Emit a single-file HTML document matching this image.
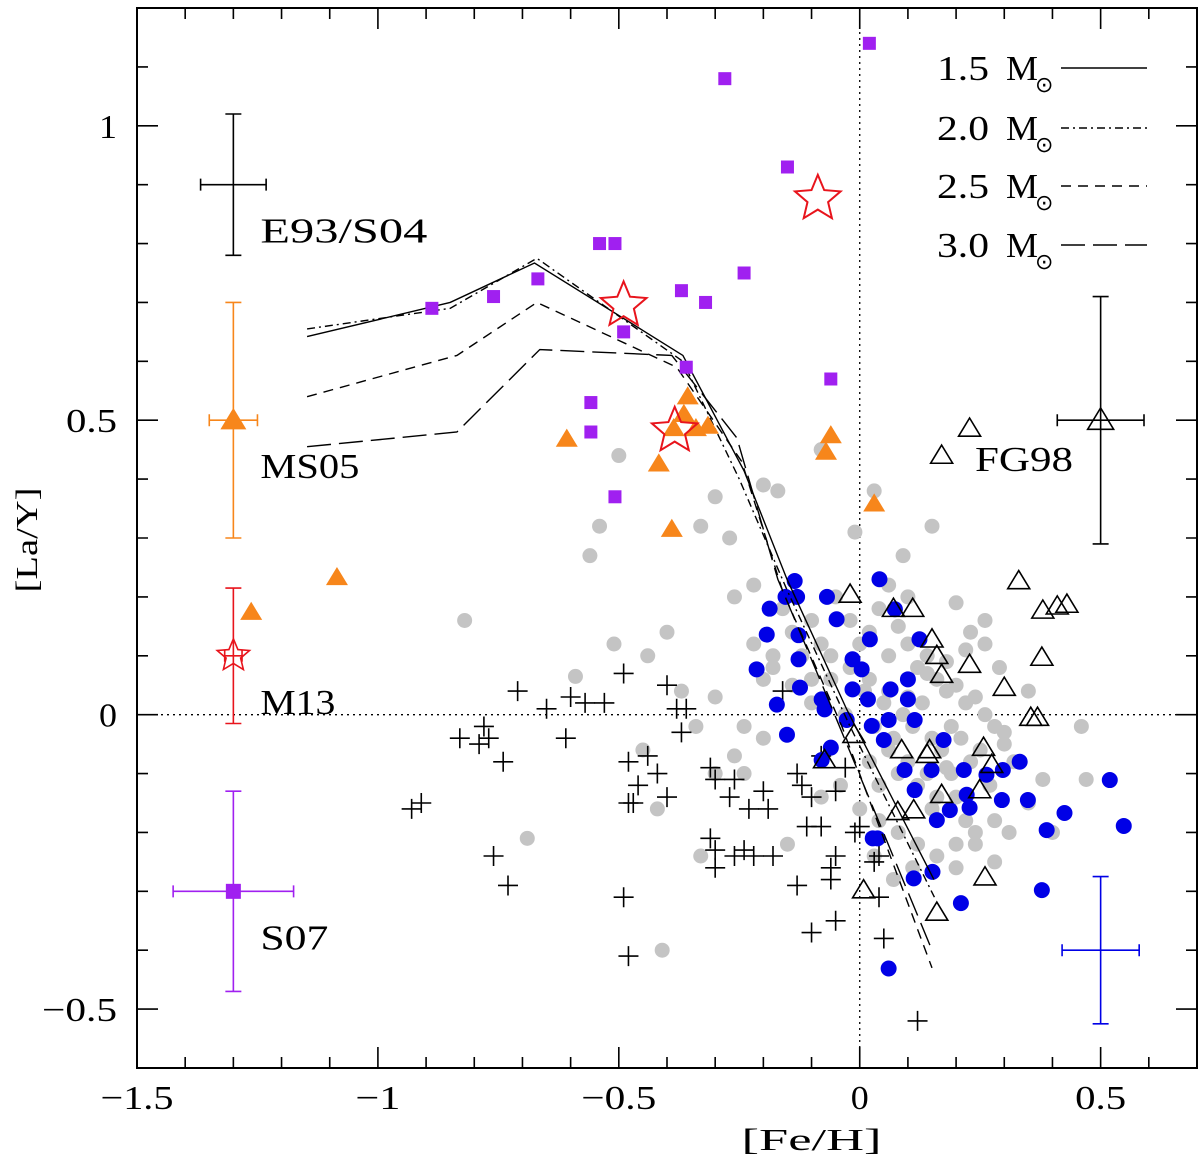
<!DOCTYPE html>
<html><head><meta charset="utf-8"><style>
html,body{margin:0;padding:0;background:#fff}
svg{display:block}
text{font-family:"Liberation Serif",serif;fill:#000}
</style></head><body>
<svg id="chart" width="1200" height="1163" viewBox="0 0 1200 1163" xmlns="http://www.w3.org/2000/svg"></svg>
<script>
const xTicks=[-1.5,-1,-0.5,0,0.5];
const xTickLabels=["\u22121.5","\u22121","\u22120.5","0","0.5"];
const yTicks=[-0.5,0,0.5,1];
const yTickLabels=["\u22120.5","0","0.5","1"];
const purpleX=[-0.888,-0.76,-0.668,-0.54,-0.508,-0.558,-0.558,-0.508,-0.49,-0.37,-0.32,-0.36,-0.24,-0.28,-0.15,-0.06,0.02];
const purpleY=[0.69,0.71,0.74,0.80,0.80,0.53,0.48,0.37,0.65,0.72,0.70,0.59,0.75,1.08,0.93,0.57,1.14];
const orangeX=[-1.085,-1.263,-0.608,-0.417,-0.39,-0.357,-0.386,-0.34,-0.315,-0.365,-0.06,-0.07,0.03];
const orangeY=[0.233,0.174,0.468,0.426,0.315,0.54,0.486,0.486,0.49,0.51,0.474,0.446,0.358];
const starX=[-0.49,-0.384,-0.087];
const starY=[0.695,0.482,0.876];
const openTriX=[0.17,0.228,-0.02,0.07,0.11,0.15,0.16,0.17,0.228,0.33,0.38,0.41,0.43,0.378,0.3,0.355,0.369,-0.012,-0.073,0.087,0.14,0.145,0.257,0.274,0.249,0.17,0.079,0.112,0.008,0.26,0.16];
const openTriY=[0.44,0.486,0.204,0.18,0.18,0.128,0.10,0.068,0.085,0.227,0.177,0.184,0.187,0.097,0.046,-0.005,-0.005,-0.034,-0.077,-0.06,-0.068,-0.06,-0.056,-0.085,-0.128,-0.136,-0.165,-0.162,-0.298,-0.276,-0.336];
const blueX=[-0.154,-0.187,-0.13,-0.068,-0.127,-0.193,-0.127,-0.124,-0.048,0.021,0.041,0.073,0.124,-0.214,-0.172,-0.151,-0.079,-0.073,-0.06,-0.015,-0.015,0.004,-0.027,0.017,0.025,0.064,0.05,0.06,0.10,0.114,0.093,0.114,0.149,0.174,0.16,0.216,0.222,0.187,0.228,0.263,0.297,0.332,0.295,0.349,0.388,0.425,0.519,0.548,0.378,0.21,0.151,0.112,0.027,0.037,0.06,-0.135,-0.079,0.1];
const blueY=[0.20,0.18,0.20,0.20,0.135,0.136,0.094,0.046,0.162,0.128,0.23,0.179,0.128,0.077,0.017,-0.034,0.026,0.009,-0.056,0.094,0.043,0.077,-0.009,0.026,-0.019,0.043,-0.043,-0.009,0.026,-0.009,-0.094,-0.128,-0.094,-0.043,-0.179,-0.094,-0.136,-0.162,-0.158,-0.102,-0.094,-0.08,-0.145,-0.145,-0.196,-0.167,-0.111,-0.189,-0.298,-0.32,-0.267,-0.278,-0.21,-0.21,-0.431,0.227,-0.077,0.06];
const grayX=[-0.82,-0.69,-0.59,-0.41,-0.56,-0.54,-0.5,-0.51,-0.44,-0.37,-0.33,-0.3,-0.27,-0.2,-0.17,-0.08,-0.01,0.03,0.15,0.09,0.2,0.23,0.29,0.35,0.38,0.46,0.47,0.4,0.28,0.2,-0.34,-0.33,-0.4,-0.45,-0.42,-0.3,-0.24,-0.2,-0.26,-0.22,-0.16,-0.12,-0.1,-0.08,-0.05,-0.02,0.0,0.02,0.04,0.06,0.08,0.1,0.12,0.14,0.16,0.18,0.2,0.22,0.24,0.26,0.28,0.3,0.32,-0.18,-0.14,-0.1,-0.06,-0.03,0.01,0.03,0.05,0.07,0.09,0.11,0.13,0.15,0.17,0.19,0.21,0.23,0.25,0.27,0.3,0.02,0.04,0.06,0.08,0.1,0.12,0.14,0.16,0.18,0.2,0.22,0.24,-0.04,0.0,0.04,0.08,0.12,0.16,0.2,0.24,0.28,-0.22,-0.18,-0.14,-0.1,-0.06,-0.02,0.02,0.06,0.1,0.14,0.18,0.22,0.26,-0.26,-0.2,-0.08,0.03,0.07,0.11,0.15,0.19,0.06,0.1,-0.3,-0.24,-0.15,0.31,0.35,0.26];
const grayY=[0.16,-0.21,0.065,-0.40,0.27,0.32,0.44,0.12,0.10,0.04,0.32,0.37,0.30,0.39,0.38,0.45,0.31,0.38,0.32,0.27,0.19,0.14,0.08,0.04,-0.11,-0.02,-0.11,-0.2,-0.25,-0.22,-0.02,-0.24,0.14,-0.06,-0.16,-0.1,-0.02,0.06,0.2,0.22,0.18,0.1,0.16,0.12,0.2,0.16,0.12,0.14,0.18,0.1,0.15,0.12,0.08,0.1,0.06,0.04,0.05,0.02,0.03,0.0,-0.02,-0.05,-0.08,0.08,0.05,0.02,0.06,0.0,0.04,-0.02,0.02,-0.04,0.0,-0.02,0.02,-0.04,-0.06,-0.02,-0.04,-0.08,-0.06,-0.12,-0.03,-0.08,-0.12,-0.06,-0.1,-0.08,-0.12,-0.1,-0.14,-0.09,-0.14,-0.18,-0.2,-0.12,-0.16,-0.18,-0.2,-0.22,-0.24,-0.26,-0.22,-0.18,0.12,0.1,0.14,0.06,0.1,0.08,0.06,0.04,0.03,0.07,0.09,0.11,0.12,-0.07,-0.04,-0.14,-0.24,-0.28,-0.26,-0.16,-0.1,0.22,0.2,0.03,-0.1,-0.22,-0.2,-0.15,0.16];
const plusX=[-0.93,-0.91,-0.83,-0.79,-0.78,-0.77,-0.74,-0.71,-0.65,-0.61,-0.6,-0.57,-0.53,-0.49,-0.48,-0.46,-0.47,-0.44,-0.42,-0.4,-0.38,-0.36,-0.37,-0.4,-0.31,-0.3,-0.27,-0.26,-0.23,-0.2,-0.19,-0.31,-0.3,-0.3,-0.26,-0.22,-0.18,-0.11,-0.08,-0.12,-0.1,-0.05,-0.03,-0.13,-0.08,-0.16,-0.05,-0.06,-0.06,-0.13,-0.1,-0.05,-0.01,0.03,0.04,0.05,0.04,0.0,0.12,-0.49,-0.48,-0.48,-0.73,-0.76,-0.24];
const plusY=[-0.16,-0.15,-0.04,-0.05,-0.02,-0.04,-0.08,0.04,0.01,-0.04,0.03,0.02,0.02,0.07,-0.08,-0.12,-0.15,-0.07,-0.1,0.05,0.01,0.01,-0.03,-0.14,-0.09,-0.11,-0.14,-0.11,-0.16,-0.13,-0.16,-0.21,-0.23,-0.26,-0.24,-0.24,-0.24,-0.19,-0.19,-0.12,-0.14,-0.13,-0.09,-0.1,-0.07,0.04,-0.24,-0.26,-0.28,-0.29,-0.37,-0.35,-0.2,-0.25,-0.31,-0.38,-0.24,-0.19,-0.52,-0.31,-0.41,-0.15,-0.29,-0.24,-0.23];
const m15X=[-1.147,-0.85,-0.675,-0.367,-0.24,-0.151,-0.027,0.154];
const m15Y=[0.642,0.70,0.767,0.61,0.414,0.23,0.009,-0.28];
const m20X=[-1.147,-0.85,-0.67,-0.367,-0.25,-0.15,-0.02,0.155];
const m20Y=[0.655,0.69,0.775,0.6,0.40,0.21,-0.02,-0.31];
const m25X=[-1.147,-0.836,-0.67,-0.38,-0.245,-0.16,-0.037,0.15];
const m25Y=[0.54,0.61,0.70,0.59,0.43,0.21,-0.02,-0.43];
const m30X=[-1.147,-0.836,-0.664,-0.39,-0.255,-0.17,-0.047,0.15];
const m30Y=[0.455,0.48,0.62,0.61,0.47,0.23,-0.01,-0.40];

const X0=137,X1=1197,Y0=8,Y1=1068,XMIN=-1.5,XMAX=0.7,YMIN=-0.6,YMAX=1.2;
const sx=v=>X0+(v-XMIN)/(XMAX-XMIN)*(X1-X0);
const sy=v=>Y1-(v-YMIN)/(YMAX-YMIN)*(Y1-Y0);
const svg=document.getElementById('chart');
const NS='http://www.w3.org/2000/svg';
function mk(tag,attrs,parent){const e=document.createElementNS(NS,tag);for(const k in attrs)e.setAttribute(k,attrs[k]);(parent||svg).appendChild(e);return e;}

let g=mk('g',{});


mk('line',{x1:sx(0),x2:sx(0),y1:Y0,y2:Y1,stroke:'#000','stroke-width':1.3,'stroke-dasharray':'2,4'},g);
mk('line',{x1:X0,x2:X1,y1:sy(0),y2:sy(0),stroke:'#000','stroke-width':1.3,'stroke-dasharray':'2,4'},g);

g=mk('g',{fill:'#c4c4c4'});


grayX.forEach((x,i)=>{const c=mk('circle',{cx:sx(x),cy:sy(grayY[i]),r:7.5},g);

});
g=mk('g',{stroke:'#000','stroke-width':1.6});


plusX.forEach((x,i)=>{const px=sx(x),py=sy(plusY[i]);const p=mk('path',{d:`M${px-10},${py}h20M${px},${py-10}v20`},g);

});
g=mk('g',{fill:'#0000e6'});


blueX.forEach((x,i)=>{const c=mk('circle',{cx:sx(x),cy:sy(blueY[i]),r:8},g);

});
function tri(px,py,s){return `M${px},${py-s*0.95}L${px+s},${py+s*0.7}L${px-s},${py+s*0.7}Z`;}
g=mk('g',{fill:'none',stroke:'#000','stroke-width':1.6});


openTriX.forEach((x,i)=>{const p=mk('path',{d:tri(sx(x),sy(openTriY[i]),11)},g);

});
const models=[[m15X,m15Y,'none','model-1.5'],[m20X,m20Y,'8,4,2,4','model-2.0'],[m25X,m25Y,'10,7','model-2.5'],[m30X,m30Y,'24,8','model-3.0']];
models.forEach(m=>{const pl=mk('polyline',{points:m[0].map((x,i)=>sx(x)+','+sy(m[1][i])).join(' '),fill:'none',stroke:'#000','stroke-width':1.4,'stroke-dasharray':m[2]});

});
g=mk('g',{fill:'#a020f0'});


purpleX.forEach((x,i)=>{const r=mk('rect',{x:sx(x)-6.5,y:sy(purpleY[i])-6.5,width:13,height:13},g);

});
g=mk('g',{fill:'#f7861b'});


orangeX.forEach((x,i)=>{const p=mk('path',{d:tri(sx(x),sy(orangeY[i]),11)},g);

});
function star(cx,cy,R){let d='';for(let k=0;k<10;k++){const r=k%2?R*0.45:R;const a=-Math.PI/2+k*Math.PI/5;d+=(k?'L':'M')+(cx+r*Math.cos(a)).toFixed(1)+','+(cy+r*Math.sin(a)).toFixed(1);}return d+'Z';}
g=mk('g',{fill:'none',stroke:'#e8141c','stroke-width':2});


starX.forEach((x,i)=>{const p=mk('path',{d:star(sx(x),sy(starY[i]),24)},g);

});

function ebar(name,x,y,dx,ylo,yhi,col,cap){const e=mk('g',{stroke:col,'stroke-width':1.6,fill:'none'});


const px=sx(x),py=sy(y);
mk('path',{d:`M${px},${sy(ylo)}V${sy(yhi)}M${px-cap},${sy(ylo)}h${2*cap}M${px-cap},${sy(yhi)}h${2*cap}`},e);
if(dx>0)mk('path',{d:`M${sx(x-dx)},${py}H${sx(x+dx)}M${sx(x-dx)},${py-6}v12M${sx(x+dx)},${py-6}v12`},e);
return e;}
ebar('e93-s04-error-bar',-1.3,0.9,0.068,0.78,1.02,'#000',8);
ebar('ms05-error-bar',-1.3,0.5,0.05,0.30,0.70,'#f7861b',8);
mk('path',{d:tri(sx(-1.3),sy(0.5),13),fill:'#f7861b'});
ebar('m13-error-bar',-1.3,0.1,0.018,-0.015,0.215,'#e8141c',8);
mk('path',{d:star(sx(-1.3),sy(0.1),17),fill:'none',stroke:'#e8141c','stroke-width':1.6});
ebar('s07-error-bar',-1.3,-0.3,0.125,-0.47,-0.13,'#a020f0',8);
mk('rect',{x:sx(-1.3)-7.5,y:sy(-0.3)-7.5,width:15,height:15,fill:'#a020f0'});
ebar('fg98-error-bar',0.5,0.5,0.09,0.29,0.71,'#000',8);
mk('path',{d:tri(sx(0.5),sy(0.5),13),fill:'none',stroke:'#000','stroke-width':1.6});
ebar('blue-error-bar',0.5,-0.4,0.08,-0.525,-0.275,'#0000e6',8);

function stretch(t,len){t.setAttribute('textLength',len);t.setAttribute('lengthAdjust','spacingAndGlyphs');}
[['E93/S04',-1.3,0.9,167],['MS05',-1.3,0.5,99],['M13',-1.3,0.1,75],['S07',-1.3,-0.3,68]].forEach(l=>{
const t=mk('text',{x:sx(l[1])+27,y:sy(l[2])+58,'font-size':35});t.textContent=l[0];stretch(t,l[3]);

});
let t=mk('text',{x:975,y:471,'font-size':35});t.textContent='FG98';stretch(t,98);



const legLabels=['1.5','2.0','2.5','3.0'];
const legY=[68,128,186,245];
const legDash=['none','8,4,2,4','10,7','24,8'];
legLabels.forEach((lab,i)=>{const lg=mk('g',{});


const tx=mk('text',{x:937,y:legY[i]+12,'font-size':35},lg);tx.textContent=lab;stretch(tx,52);
const m=mk('text',{x:1006,y:legY[i]+12,'font-size':35},lg);m.textContent='M';stretch(m,32);
const s=mk('text',{x:1035,y:legY[i]+24,'font-size':22},lg);s.textContent='\u2299';
mk('line',{x1:1061,x2:1147,y1:legY[i],y2:legY[i],stroke:'#000','stroke-width':1.5,'stroke-dasharray':legDash[i]},lg);});

const ax=mk('g',{stroke:'#000','stroke-width':2,fill:'none'});


mk('rect',{x:X0,y:Y0,width:X1-X0,height:Y1-Y0},ax);
let d='';
for(let v=-15;v<=7;v++){const x=sx(v/10);const L=(v%5===0)?21:11;d+=`M${x},${Y1}v${-L}M${x},${Y0}v${L}`;}
for(let v=-6;v<=12;v++){const y=sy(v/10);const L=(v%5===0)?21:11;d+=`M${X0},${y}h${L}M${X1},${y}h${-L}`;}
mk('path',{d:d,'stroke-width':1.6},ax);
const xLen={"\u22121.5":73,"\u22121":45,"\u22120.5":75,"0":18,"0.5":51};
xTicks.forEach((v,i)=>{const tt=mk('text',{x:sx(v),y:1109,'font-size':34,'text-anchor':'middle'});tt.textContent=xTickLabels[i];stretch(tt,xLen[xTickLabels[i]]);

});
yTicks.forEach((v,i)=>{const tt=mk('text',{x:117,y:sy(v)+12,'font-size':34,'text-anchor':'end'});tt.textContent=yTickLabels[i];stretch(tt,xLen[yTickLabels[i]]||18);

});
t=mk('text',{x:sx(-0.1),y:1150,'font-size':31,'text-anchor':'middle'});t.textContent='[Fe/H]';stretch(t,140);


t=mk('text',{x:0,y:0,'font-size':31,'text-anchor':'middle',transform:`translate(37,540) rotate(-90)`});t.textContent='[La/Y]';stretch(t,105);


</script>
</body></html>
